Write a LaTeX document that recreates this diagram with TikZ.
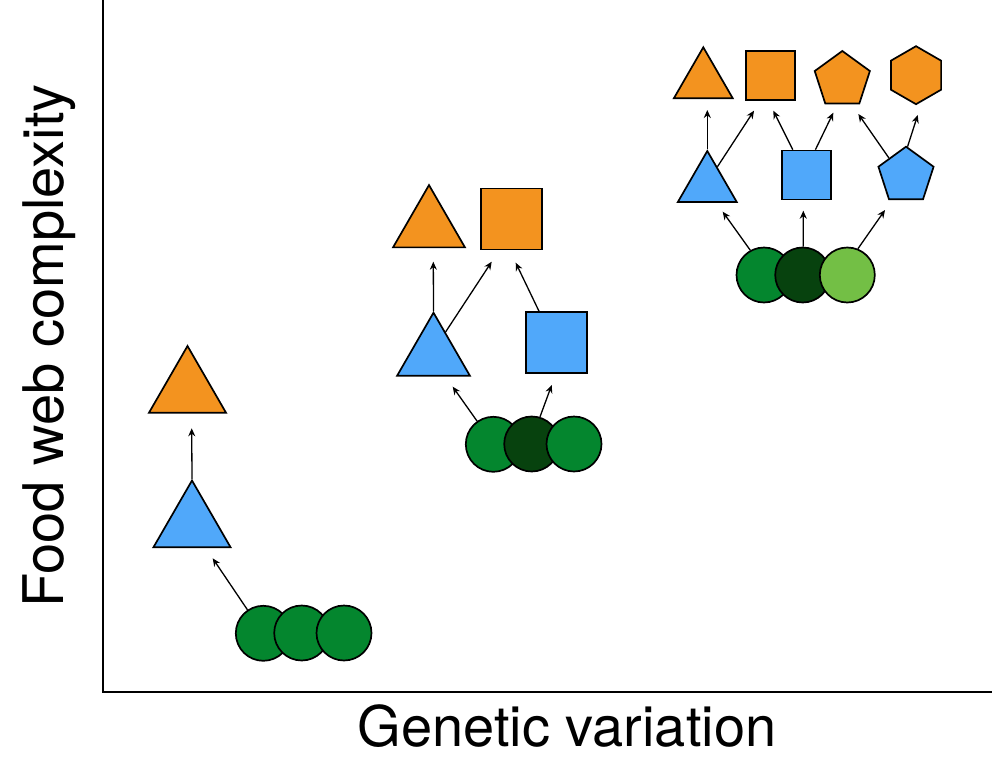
\documentclass[tikz,border=0pt]{standalone}
\usepackage{fontspec}
\setmainfont{TeX Gyre Heros}
\usetikzlibrary{arrows.meta,shapes.geometric}
\definecolor{toporange}{RGB}{243,147,31}
\definecolor{midblue}{RGB}{80,168,250}
\definecolor{plantgreen}{RGB}{4,134,46}
\definecolor{plantdark}{RGB}{7,66,14}
\definecolor{plantlight}{RGB}{115,191,69}

\begin{document}
\begin{tikzpicture}[x=1pt,y=-1pt,>={Stealth[length=8pt,width=7pt]},
	organism/.style={draw,line width=1.7pt,inner sep=0pt},
	tri/.style={organism,regular polygon,regular polygon sides=3},
	sq/.style={organism,rectangle},
	pent/.style={organism,regular polygon,regular polygon sides=5},
	hex/.style={organism,regular polygon,regular polygon sides=6,shape border rotate=30},
	plant/.style={organism,circle,minimum size=55pt},
	link/.style={->,line width=1.3pt}]
			\useasboundingbox (0,0) rectangle (992,768);

			\draw [line width=2pt] (103.3,0) -- (103.3,691.7) -- (992,691.7);
			\node (xlab) [anchor=base,font=\fontsize{56}{60}\selectfont] at (567,746) {Genetic variation};
			\node (ylab) [anchor=base,rotate=90,font=\fontsize{56}{60}\selectfont] at (63,346) {Food web complexity};

			\node [tri,fill=toporange,minimum size=89pt] (o1) at (187.5,390.5) {};
			\node [tri,fill=midblue,minimum size=89pt] (b1) at (192,525) {};
			\node [plant,fill=plantgreen] (c1a) at (263.3,633.3) {};
			\node [plant,fill=plantgreen] (c1b) at (301.7,633) {};
			\node [plant,fill=plantgreen] (c1c) at (344,633) {};
			\coordinate (t1a) at (191.7,428.3);
			\coordinate (t1b) at (212.7,558.3);
			\draw [link] (b1.north) -- (t1a);
			\draw [link] (c1a.124) -- (t1b);

			\node [tri,fill=toporange,minimum size=83pt] (o2t) at (429,226.6) {};
			\node [sq,fill=toporange,minimum size=61pt] (o2s) at (511.7,219) {};
			\node [tri,fill=midblue,minimum size=84pt] (b2t) at (433.5,354.7) {};
			\node [sq,fill=midblue,minimum size=61pt] (b2s) at (556.5,342.8) {};
			\node [plant,fill=plantgreen] (c2a) at (493.3,444.3) {};
			\node [plant,fill=plantdark] (c2b) at (531.7,444) {};
			\node [plant,fill=plantgreen] (c2c) at (574,444) {};
			\coordinate (t2a) at (433.3,261.7);
			\coordinate (t2b) at (491.7,261.7);
			\coordinate (t2c) at (515.7,262.7);
			\coordinate (t2d) at (452.7,386.7);
			\coordinate (t2e) at (551.7,385);
			\draw [link] (b2t.north) -- (t2a);
			\draw [link] (b2t.62) -- (t2b);
			\draw [link] (b2s.119) -- (t2c);
			\draw [link] (c2a.125) -- (t2d);
			\draw [link] (c2b.73) -- (t2e);

			\node [tri,fill=toporange,minimum size=68pt] (o3t) at (703.3,81.3) {};
			\node [sq,fill=toporange,minimum size=49pt] (o3s) at (770.3,75.3) {};
			\node [pent,fill=toporange,minimum size=58pt] (o3p) at (842.3,80) {};
			\node [hex,fill=toporange,minimum size=58pt] (o3h) at (916,75.2) {};
			\node [tri,fill=midblue,minimum size=68pt] (b3t) at (707.3,185) {};
			\node [sq,fill=midblue,minimum size=49pt] (b3s) at (806.2,175) {};
			\node [pent,fill=midblue,minimum size=58pt] (b3p) at (906,175.7) {};
			\node [plant,fill=plantgreen] (c3a) at (764,275) {};
			\node [plant,fill=plantdark] (c3b) at (802.7,275) {};
			\node [plant,fill=plantlight] (c3c) at (847.3,275) {};
			\coordinate (t3a) at (707.3,110);
			\coordinate (t3b) at (754,110.7);
			\coordinate (t3c) at (773.3,110.7);
			\coordinate (t3d) at (833.3,112.7);
			\coordinate (t3e) at (858.3,114);
			\coordinate (t3f) at (917.7,115);
			\coordinate (t3g) at (722.7,211.7);
			\coordinate (t3h) at (803.3,210.7);
			\coordinate (t3i) at (885,210);
			\draw [link] (b3t.north) -- (t3a);
			\draw [link] (b3t.61) -- (t3b);
			\draw [link] (b3s.118) -- (t3c);
			\draw [link] (b3s.70) -- (t3d);
			\draw [link] (b3p.134) -- (t3e);
			\draw [link] (b3p.87) -- (t3f);
			\draw [link] (c3a.119) -- (t3g);
			\draw [link] (c3b.89) -- (t3h);
			\draw [link] (c3c.68) -- (t3i);
		\end{tikzpicture}
\end{document}
